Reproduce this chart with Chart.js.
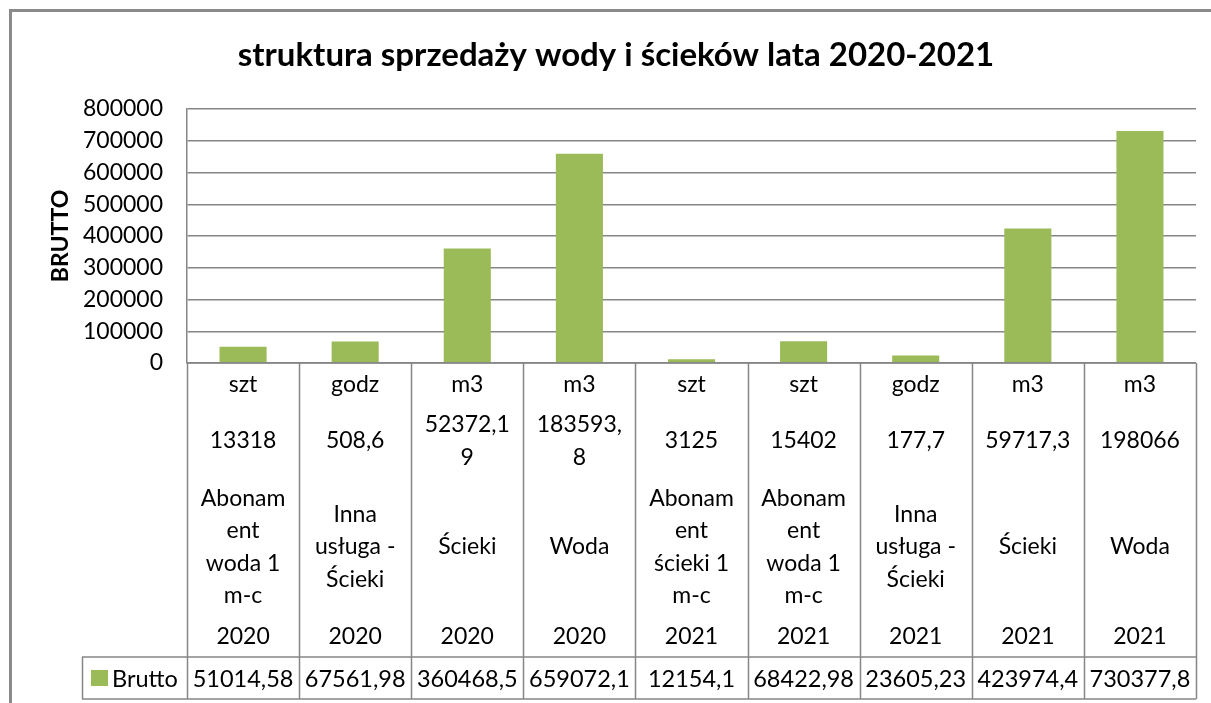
<!DOCTYPE html>
<html>
<head>
<meta charset="utf-8">
<script src="https://cdn.jsdelivr.net/npm/chart.js@4"></script>
<style>
  html, body { margin: 0; padding: 0; background: #ffffff; }
  #wrap { width: 1211px; height: 703px; position: relative; }
</style>
</head>
<body>
<div id="wrap"><canvas id="c" width="1211" height="703"></canvas></div>
<script>
// ---- data ----
const units = ['szt', 'godz', 'm3', 'm3', 'szt', 'szt', 'godz', 'm3', 'm3'];
const quantities = [['13318'], ['508,6'], ['52372,1', '9'], ['183593,', '8'], ['3125'], ['15402'], ['177,7'], ['59717,3'], ['198066']];
const names = [
  ['Abonam', 'ent', 'woda 1', 'm-c'],
  ['Inna', 'usługa -', 'Ścieki'],
  ['Ścieki'],
  ['Woda'],
  ['Abonam', 'ent', 'ścieki 1', 'm-c'],
  ['Abonam', 'ent', 'woda 1', 'm-c'],
  ['Inna', 'usługa -', 'Ścieki'],
  ['Ścieki'],
  ['Woda']
];
const years = ['2020', '2020', '2020', '2020', '2021', '2021', '2021', '2021', '2021'];
const brutto = [51014.58, 67561.98, 360468.5, 659072.1, 12154.1, 68422.98, 23605.23, 423974.4, 730377.8];
const seriesName = 'Brutto';
const yTicks = [0, 100000, 200000, 300000, 400000, 500000, 600000, 700000, 800000];
const chartTitle = 'struktura sprzedaży wody i ścieków lata 2020-2021';
const yTitle = 'BRUTTO';

const labels = units.map((u, i) => i);
const FONT = 'Lato';
const GRID = '#868686';
const BAR = '#9BBB59';

function fmt(v) { return String(v).replace('.', ','); }

const decor = {
  id: 'decor',
  beforeDraw(chart) {
    const ctx = chart.ctx;
    ctx.save();
    ctx.fillStyle = '#ffffff';
    ctx.fillRect(0, 0, chart.width, chart.height);
    // outer frame
    ctx.strokeStyle = '#8a8a8a';
    ctx.lineWidth = 3;
    ctx.beginPath();
    ctx.moveTo(10.5, 720);
    ctx.lineTo(10.5, 10.5);
    ctx.lineTo(1230, 10.5);
    ctx.stroke();
    ctx.restore();
  },
  afterDraw(chart) {
    const ctx = chart.ctx;
    const x = chart.scales.x;
    const area = chart.chartArea;
    const n = units.length;
    const colW = (area.right - area.left) / n;
    const top = area.bottom;
    const rowSplit = top + 294;
    const bottom = top + 336;
    const legendLeft = 82;

    ctx.save();
    // title
    ctx.fillStyle = '#000';
    ctx.font = 'bold 33px ' + FONT;
    ctx.textAlign = 'center';
    ctx.textBaseline = 'alphabetic';
    ctx.fillText(chartTitle, 616, 66);

    // y title
    ctx.save();
    ctx.translate(68, (area.top + area.bottom) / 2);
    ctx.rotate(-Math.PI / 2);
    ctx.font = 'bold 23px ' + FONT;
    ctx.textBaseline = 'alphabetic';
    ctx.fillText(yTitle, 0, 0);
    ctx.restore();

    // table lines
    ctx.strokeStyle = GRID;
    ctx.lineWidth = 1.5;
    ctx.beginPath();
    ctx.moveTo(area.left, top);
    ctx.lineTo(area.right, top);
    for (let i = 0; i <= n; i++) {
      const xx = Math.round(area.left + i * colW) + 0.5;
      ctx.moveTo(xx, top);
      ctx.lineTo(xx, bottom);
    }
    ctx.moveTo(legendLeft, rowSplit);
    ctx.lineTo(area.right, rowSplit);
    ctx.moveTo(legendLeft, bottom);
    ctx.lineTo(area.right, bottom);
    ctx.moveTo(legendLeft + 0.5, rowSplit);
    ctx.lineTo(legendLeft + 0.5, bottom);
    ctx.stroke();

    // category texts
    ctx.fillStyle = '#000';
    ctx.font = '23px ' + FONT;
    ctx.textAlign = 'center';
    ctx.textBaseline = 'middle';
    const lh = 32.5;
    function block(lines, cx, cy) {
      const h = (lines.length - 1) * lh;
      lines.forEach((t, k) => ctx.fillText(t, cx, cy - h / 2 + k * lh));
    }
    for (let i = 0; i < n; i++) {
      const cx = x.getPixelForValue(i);
      block([units[i]], cx, top + 22);
      block(quantities[i], cx, top + 78);
      block(names[i], cx, top + 184);
      block([years[i]], cx, top + 274);
      ctx.font = '23.5px ' + FONT;
      ctx.fillText(fmt(brutto[i]), cx, (rowSplit + bottom) / 2 + 1);
      ctx.font = '23px ' + FONT;
    }
    // legend key
    ctx.fillStyle = BAR;
    ctx.fillRect(91, 670, 17, 16);
    ctx.fillStyle = '#000';
    ctx.textAlign = 'left';
    ctx.font = '23.5px ' + FONT;
    ctx.fillText(seriesName, 112, (rowSplit + bottom) / 2 + 1);
    ctx.restore();
  }
};

new Chart(document.getElementById('c'), {
  type: 'bar',
  data: {
    labels: labels,
    datasets: [{
      label: seriesName,
      data: brutto,
      backgroundColor: BAR,
      borderWidth: 0,
      barPercentage: 0.42,
      categoryPercentage: 1.0
    }]
  },
  options: {
    responsive: false,
    animation: false,
    devicePixelRatio: 1,
    layout: { padding: { top: 109, left: 0, right: 15, bottom: 340 } },
    plugins: {
      legend: { display: false },
      title: { display: false },
      tooltip: { enabled: false }
    },
    scales: {
      x: {
        type: 'category',
        offset: true,
        ticks: { display: false },
        grid: { display: false, drawTicks: false, tickLength: 0 },
        border: { display: false },
        afterFit(s) { s.height = 0; }
      },
      y: {
        min: 0,
        max: 800000,
        afterBuildTicks(s) { s.ticks = yTicks.map(v => ({ value: v })); },
        ticks: {
          color: '#000',
          font: { family: FONT, size: 23 },
          padding: 24,
          callback: v => String(v)
        },
        grid: { color: GRID, lineWidth: 1.5, drawTicks: false, tickLength: 0 },
        border: { display: true, color: GRID, width: 1.5 },
        afterFit(s) { s.width = 187; }
      }
    }
  },
  plugins: [decor]
});
</script>
</body>
</html>
